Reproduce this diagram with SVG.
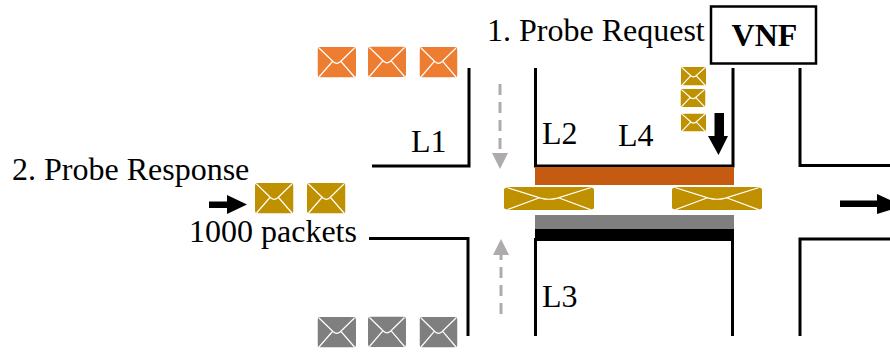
<svg xmlns="http://www.w3.org/2000/svg" width="890" height="352" viewBox="0 0 890 352">
<style>
text{font-family:"Liberation Serif","Times New Roman",serif;font-size:32px;fill:#000}
.wall{fill:none;stroke:#000;stroke-width:3}
.dash{fill:none;stroke:#afabab;stroke-width:3;stroke-dasharray:11 7}
.tri{fill:#afabab}
</style>
<defs>
<symbol id="env" viewBox="0 0 38 30" preserveAspectRatio="none">
<rect x="0" y="0" width="38" height="30" rx="3" fill="currentColor"/>
<path d="M1.500 1 L15.500 14.500 Q19 17.500 22.500 14.500 L36.500 1 M1.500 29.500 L15 14 M36.500 29.500 L23 14" fill="none" stroke="#fff" stroke-width="1.200" vector-effect="non-scaling-stroke"/>
</symbol>
</defs>
<g id="connectors">
<path class="wall" d="M372 166H469V68"/>
<path class="wall" d="M535.500 68V166H733V68"/>
<path class="wall" d="M800 68V165.500H890"/>
<path class="wall" d="M369 238.500H468V336"/>
<path class="wall" d="M535.500 238V336"/>
<path class="wall" d="M732.500 238V336"/>
<path class="wall" d="M800 336V239H890"/>
<path class="dash" d="M500 84V153"/>
<path class="tri" d="M492 153H508L500 169Z"/>
<path class="dash" d="M501 314V255"/>
<path class="tri" d="M493 255H509L501 239Z"/>
<path d="M209 201.500H227V195L247 204.500L227 214V208H209Z" fill="#000"/>
<path d="M840 200.500H877V194L890 200V210L877 214V207H840Z" fill="#000"/>
<path d="M714.500 113H724V136H728L718.500 155L708 136H714.500Z" fill="#000"/>
</g>
<g id="bar-orange"><rect x="535" y="167" width="199" height="18" fill="#c55a11"/></g>
<g id="bar-gray"><rect x="535" y="215" width="199" height="14" fill="#7f7f7f"/></g>
<g id="bar-black"><rect x="535" y="229" width="199" height="12" fill="#000"/></g>
<g id="vnf">
<rect x="711" y="6.500" width="105" height="57" fill="#fff" stroke="#000" stroke-width="2.500"/>
<text x="764.500" y="46" text-anchor="middle" style="font-weight:bold">VNF</text>
</g>
<g id="orange-envelopes" color="#ed7d31">
<use href="#env" x="317.500" y="47" width="38.500" height="30.500"/>
<use href="#env" x="368" y="46.500" width="38" height="30.500"/>
<use href="#env" x="419.500" y="47" width="38" height="30.500"/>
</g>
<g id="gray-envelopes" color="#7f7f7f">
<use href="#env" x="317.500" y="317" width="38.500" height="30.500"/>
<use href="#env" x="368" y="316.500" width="38" height="30.500"/>
<use href="#env" x="419.500" y="317" width="38" height="30.500"/>
</g>
<g id="gold-envelopes" color="#bf9000">
<use href="#env" x="255" y="183" width="38.500" height="30.500"/>
<use href="#env" x="307" y="183" width="38.500" height="30.500"/>
<use href="#env" x="504" y="187" width="90" height="23"/>
<use href="#env" x="672" y="187" width="90" height="23"/>
<use href="#env" x="681" y="67" width="25" height="18.500"/>
<use href="#env" x="680.500" y="89" width="25" height="18"/>
<use href="#env" x="681" y="113.500" width="25" height="18"/>
</g>
<g id="labels">
<text x="487" y="41">1. Probe Request</text>
<text x="12" y="180">2. Probe Response</text>
<text x="189" y="242">1000 packets</text>
<text x="411" y="152">L1</text>
<text x="542" y="144">L2</text>
<text x="618" y="146">L4</text>
<text x="542" y="307">L3</text>
</g>
</svg>
